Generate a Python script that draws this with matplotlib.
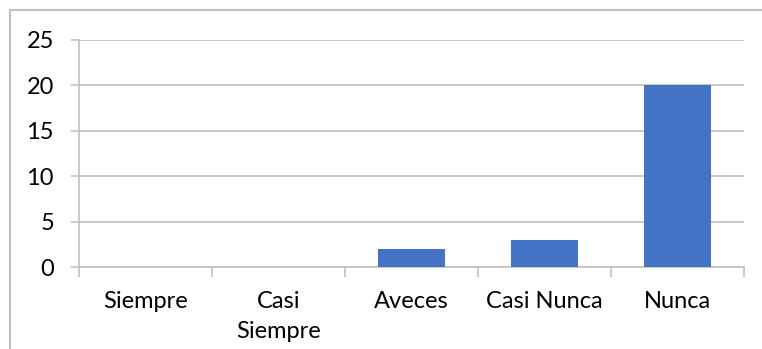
import matplotlib.pyplot as plt
from matplotlib.lines import Line2D
import numpy as np

categories = ["Siempre", "Casi\nSiempre", "Aveces", "Casi Nunca", "Nunca"]
values = [0, 0, 2, 3, 20]
y_ticks = [0, 5, 10, 15, 20, 25]

GRID = "#C0C0C0"
BAR = "#4472C4"

plt.rcParams['font.family'] = ['Lato', 'DejaVu Sans']

fig = plt.figure(figsize=(7.62, 3.49), dpi=100)
ax = fig.add_axes([79 / 762, 1 - 267 / 349, 665 / 762, 227 / 349])

x = np.arange(len(categories))
ax.bar(x, values, width=0.5, color=BAR, zorder=3)

ax.set_xlim(-0.5, len(categories) - 0.5)
ax.set_ylim(0, 25)
ax.set_yticks(y_ticks)
ax.yaxis.grid(True, color=GRID, linewidth=1.2, zorder=0)

for side in ["top", "right"]:
    ax.spines[side].set_visible(False)
for side in ["left", "bottom"]:
    ax.spines[side].set_color(GRID)
    ax.spines[side].set_linewidth(1.2)

ax.tick_params(axis="y", length=6, color=GRID, width=1.2, labelsize=17, pad=12)
ax.set_xticks(x)
ax.set_xticklabels(categories, fontsize=17, linespacing=1.55)
ax.tick_params(axis="x", which="major", length=0, pad=17)
ax.set_xticks(np.arange(-0.5, len(categories)), minor=True)
ax.tick_params(axis="x", which="minor", length=7, color=GRID, width=1.2)

# outer chart frame
fig.add_artist(Line2D([10 / 762, 1], [1 - 10 / 349] * 2, color=GRID, lw=1.5,
                      transform=fig.transFigure))
fig.add_artist(Line2D([10 / 762] * 2, [0, 1 - 10 / 349], color=GRID, lw=1.5,
                      transform=fig.transFigure))

fig.savefig("out.png", dpi=100)
